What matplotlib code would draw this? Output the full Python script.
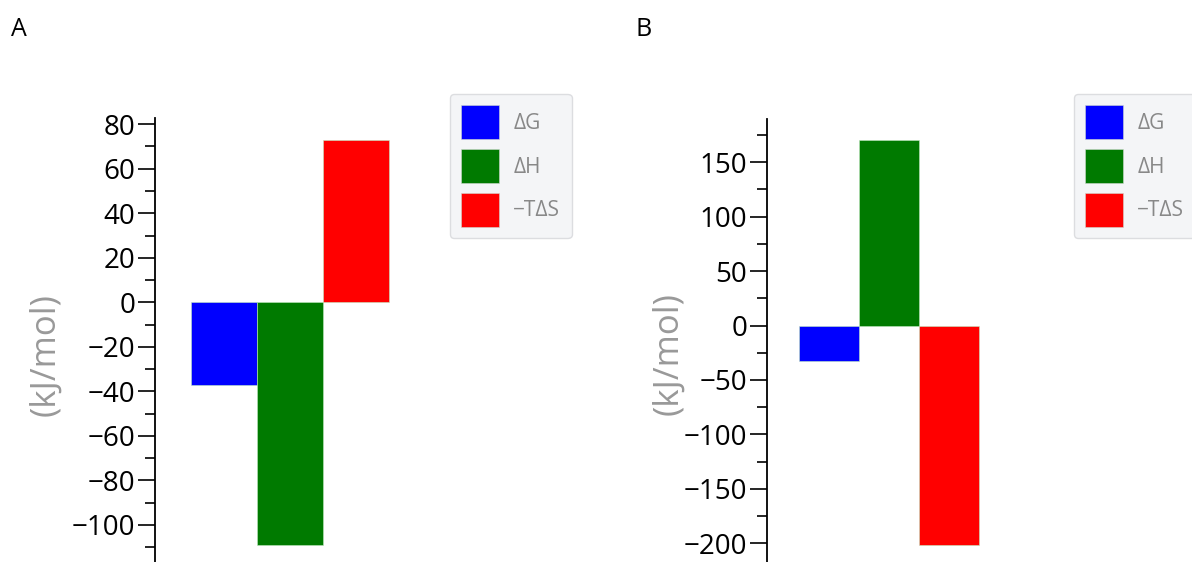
import matplotlib.pyplot as plt
from matplotlib.patches import Patch
from matplotlib.ticker import MultipleLocator

plt.rcParams['font.family'] = ['Open Sans', 'DejaVu Sans']
plt.rcParams['axes.unicode_minus'] = True

# Thermodynamic components (kJ/mol)
terms = ['ΔG', 'ΔH', '−TΔS']
colors = ['#0000ff', '#007a00', '#ff0000']
valores_a = [-37, -109, 73]
valores_b = [-33, 170, -202]

W, H = 1192, 562
fig = plt.figure(figsize=(W / 100, H / 100), dpi=100)


def panel(eje_px, top_px, right_px, ylim, xlim, valores, mayor, menor, letra, letra_px, ylab_px, leg_px):
    ax = fig.add_axes([eje_px / W, 0, (right_px - eje_px) / W, 1 - top_px / H])
    ax.bar(range(len(valores)), valores, width=1.0, color=colors,
           edgecolor='#bfe8bf', linewidth=0.4)
    ax.set_ylim(*ylim)
    ax.set_xlim(*xlim)
    for s in ['top', 'right', 'bottom']:
        ax.spines[s].set_visible(False)
    ax.spines['left'].set_linewidth(1.3)
    ax.set_xticks([])
    ax.yaxis.set_major_locator(MultipleLocator(mayor))
    ax.yaxis.set_minor_locator(MultipleLocator(menor))
    ax.tick_params(axis='y', which='major', length=12, width=1.2, labelsize=20, pad=2)
    ax.tick_params(axis='y', which='minor', length=7, width=1.2)

    fig.text(letra_px[0] / W, 1 - letra_px[1] / H, letra, fontsize=18,
             ha='center', va='center')
    fig.text(ylab_px[0] / W, 1 - ylab_px[1] / H, '(kJ/mol)', fontsize=25,
             color='#999999', rotation=90, ha='center', va='center')

    handles = [Patch(facecolor=c, edgecolor='#cfd8cf', linewidth=0.4) for c in colors]
    leg = fig.legend(handles, terms, loc='upper left',
                     bbox_to_anchor=(leg_px[0] / W, 1 - leg_px[1] / H),
                     fontsize=15, handlelength=1.82, handleheight=2.13,
                     labelspacing=0.47, handletextpad=0.66, borderpad=0.55,
                     borderaxespad=0, fancybox=True, framealpha=1,
                     facecolor='#f4f5f7', edgecolor='#dcdde0')
    for t in leg.get_texts():
        t.set_color('#888888')
    leg.get_frame().set_linewidth(1.0)
    return ax


panel(155, 118, 440, (-116.7, 82.8), (-1.045, 3.27), valores_a, 20, 10,
      'A', (19, 29), (45, 355), (450, 94))
panel(766.7, 119, 1060, (-217.2, 189.7), (-1.033, 3.85), valores_b, 50, 25,
      'B', (644, 29), (668, 354), (1074, 94))

fig.savefig('out.png', dpi=100)
